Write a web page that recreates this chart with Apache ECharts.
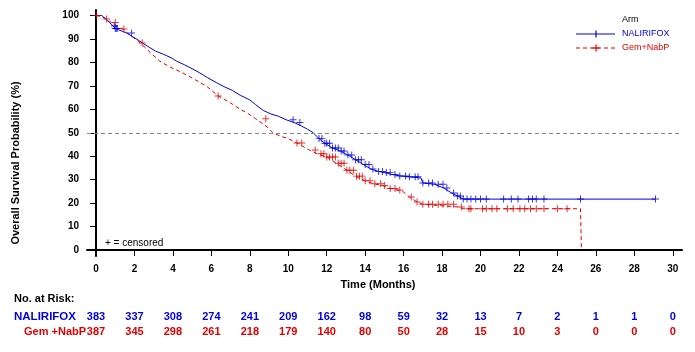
<!DOCTYPE html>
<html>
<head>
<meta charset="utf-8">
<script src="https://cdn.jsdelivr.net/npm/echarts@6/dist/echarts.min.js"></script>
<style>
html,body{margin:0;padding:0;background:#fff;}
#main{width:695px;height:352px;}
</style>
</head>
<body>
<div id="main"></div>
<script>
//KM曲线 [月, 生存率%]
let nalCurve = [[0,100],[0.3,100],[0.5,98.5],[0.7,97],[0.9,95.5],[1.0,94.5],[1.3,93.5],[1.6,92.5],[1.9,91],[2.2,89.5],
  [2.5,87.8],[2.8,86.3],[3.1,84.8],[3.5,83.5],[3.9,82],[4.2,80.5],[4.6,79],[5.0,77.3],[5.4,75.5],[5.8,73.5],
  [6.3,71.2],[6.7,69.5],[7.1,68],[7.5,66],[8.0,64],[8.3,62],[8.7,59.5],[9.1,58],[9.5,57],[9.9,55.5],
  [10.3,54.4],[10.7,52.8],[11.0,51.5],[11.3,50],[11.6,47.5],[11.9,45.5],[12.3,43.5],[12.7,42.2],[13.1,40.5],[13.5,38.5],
  [13.9,36.5],[14.3,34.5],[14.7,33.5],[15.0,33],[15.4,32.2],[15.8,31.6],[16.3,31.2],[16.9,30.7],[17.0,28.6],[17.6,28],
  [18.1,26.4],[18.5,24.3],[18.8,23],[19.1,21.7],[29.1,21.7]];
let gemCurve = [[0,100],[0.3,99.5],[0.55,98.5],[0.8,97],[1.1,95.5],[1.4,94.2],[1.8,91.5],[2.3,88.3],[2.8,84.4],[3.3,80.6],
  [3.85,78],[4.4,76],[4.9,73.8],[5.4,71.5],[5.8,69.5],[6.35,65.7],[7.0,62.7],[7.5,60],[7.85,58.5],[8.3,56],
  [8.9,52.5],[9.2,50],[9.6,48.5],[10.0,47.5],[10.45,45.6],[11.1,42.6],[11.5,41],[12.0,39.7],[12.5,37],[13.05,34],
  [13.5,31.5],[14.0,29.5],[14.4,28.3],[14.9,27.5],[15.3,26.2],[15.65,25.6],[16.0,24.7],[16.3,22.6],[16.7,20.5],[17.0,19.5],
  [18.9,18.3],[19.1,17.6],[25.2,17.6],[25.25,0]];
//删失时间
let nalCensor = [0.95,1.0,1.05,1.1,1.85,10.25,10.6,11.6,11.75,11.9,12.0,12.15,12.3,12.45,12.6,12.75,12.9,13.1,13.3,13.5,
  13.65,13.8,14.0,14.2,14.4,14.7,14.9,15.1,15.3,15.55,15.8,16.1,16.3,16.6,16.75,17.0,17.3,17.5,17.8,18.05,
  18.25,18.6,18.8,18.95,19.1,19.3,19.5,19.75,20.0,20.3,21.2,21.6,21.95,22.5,22.7,22.9,23.3,25.2,29.1];
let gemCensor = [0.03,0.55,1.0,1.45,2.4,6.35,8.83,10.45,10.7,11.4,11.7,11.85,12.0,12.15,12.3,12.45,12.6,12.75,12.9,13.05,
  13.2,13.4,13.55,13.7,13.85,14.0,14.25,14.5,14.8,15.0,15.3,15.55,15.8,16.4,16.7,17.0,17.3,17.5,17.8,18.05,
  18.3,18.6,19.0,19.4,19.5,20.1,20.3,20.6,20.85,21.4,21.7,22.05,22.3,22.6,22.9,23.3,24.0,24.5];
//风险人数
let riskTimes = [0,2,4,6,8,10,12,14,16,18,20,22,24,26,28,30];
let nalRisk = [383,337,308,274,241,209,162,98,59,32,13,7,2,1,1,0];
let gemRisk = [387,345,298,261,218,179,140,80,50,28,15,10,3,0,0,0];
let yTicks = [0,10,20,30,40,50,60,70,80,90,100];

let blue = '#0000dd';
let red = '#e00000';
let font = "'Liberation Sans', Arial, sans-serif";
let plus = 'path://M4.3,0H5.7V4.3H10V5.7H5.7V10H4.3V5.7H0V4.3H4.3Z';

//删失点的纵坐标取曲线上的值
function survAt(curve, t) {
  let s = curve[0][1];
  for (let i = 0; i < curve.length; i++) {
    if (curve[i][0] <= t) s = curve[i][1];
  }
  return s;
}
let nalMarks = nalCensor.map(t => [t, survAt(nalCurve, t)]);
let gemMarks = gemCensor.map(t => [t, survAt(gemCurve, t)]);

let dom = document.getElementById('main');
let myChart = echarts.init(dom);
let option = {
  animation: false,
  textStyle: { fontFamily: font },
  grid: { left: 87, right: 13, top: 10, bottom: 96 },
  xAxis: {
    type: 'value',
    min: -0.47,
    max: 30.48,
    splitLine: { show: false },
    axisLine: { lineStyle: { color: '#000', width: 2 } },
    axisTick: { customValues: riskTimes, length: 6, lineStyle: { color: '#000', width: 1 } },
    axisLabel: { customValues: riskTimes, color: '#000', fontWeight: 'bold', fontSize: 10, margin: 8 }
  },
  yAxis: {
    type: 'value',
    min: -2.56,
    max: 102.35,
    splitLine: { show: false },
    axisLine: { show: true, lineStyle: { color: '#000', width: 2 } },
    axisTick: { show: true, customValues: yTicks, length: 6, lineStyle: { color: '#000', width: 1 } },
    axisLabel: { customValues: yTicks, color: '#000', fontWeight: 'bold', fontSize: 10, margin: 8 }
  },
  series: [{
    name: 'NALIRIFOX',
    type: 'line',
    showSymbol: false,
    data: nalCurve,
    lineStyle: { color: blue, width: 1 },
    z: 3,
    markLine: {
      silent: true,
      symbol: 'none',
      label: { show: false },
      lineStyle: { color: '#888', type: [4, 3], width: 1 },
      data: [{ yAxis: 50 }]
    }
  }, {
    name: 'Gem+NabP',
    type: 'line',
    showSymbol: false,
    data: gemCurve,
    lineStyle: { color: red, width: 1, type: [4, 3] },
    z: 2
  }, {
    name: 'NALIRIFOX censored',
    type: 'scatter',
    symbol: plus,
    symbolSize: 7,
    data: nalMarks,
    itemStyle: { color: blue },
    z: 4
  }, {
    name: 'Gem+NabP censored',
    type: 'scatter',
    symbol: plus,
    symbolSize: 7,
    data: gemMarks,
    itemStyle: { color: red },
    z: 3
  }]
};
myChart.setOption(option);

//标题、图例和风险表
let g = [];
g.push({ type: 'text', x: 16, y: 163, rotation: Math.PI / 2,
  style: { text: 'Overall Survival Probability (%)', font: 'bold 11px ' + font, fill: '#000', align: 'center', verticalAlign: 'middle' } });
g.push({ type: 'text', x: 378, y: 285,
  style: { text: 'Time (Months)', font: 'bold 11px ' + font, fill: '#000', align: 'center', verticalAlign: 'middle' } });
g.push({ type: 'text', x: 105, y: 243,
  style: { text: '+ = censored', font: '10px ' + font, fill: '#000', verticalAlign: 'middle' } });
//图例
g.push({ type: 'text', x: 622, y: 20, style: { text: 'Arm', font: '9px ' + font, fill: '#000', verticalAlign: 'middle' } });
g.push({ type: 'line', shape: { x1: 576, y1: 34, x2: 615, y2: 34 }, style: { stroke: blue, lineWidth: 1 } });
g.push({ type: 'line', shape: { x1: 596, y1: 30.5, x2: 596, y2: 37.5 }, style: { stroke: blue, lineWidth: 1.2 } });
g.push({ type: 'text', x: 622, y: 34, style: { text: 'NALIRIFOX', font: '9px ' + font, fill: blue, verticalAlign: 'middle' } });
g.push({ type: 'line', shape: { x1: 576, y1: 48, x2: 615, y2: 48 }, style: { stroke: red, lineWidth: 1, lineDash: [4, 3] } });
g.push({ type: 'line', shape: { x1: 592.5, y1: 48, x2: 599.5, y2: 48 }, style: { stroke: red, lineWidth: 1.2 } });
g.push({ type: 'line', shape: { x1: 596, y1: 44.5, x2: 596, y2: 51.5 }, style: { stroke: red, lineWidth: 1.2 } });
g.push({ type: 'text', x: 622, y: 48, style: { text: 'Gem+NabP', font: '9px ' + font, fill: red, verticalAlign: 'middle' } });
//风险表
g.push({ type: 'text', x: 14, y: 299, style: { text: 'No. at Risk:', font: 'bold 11px ' + font, fill: '#000', verticalAlign: 'middle' } });
g.push({ type: 'text', x: 14, y: 317, style: { text: 'NALIRIFOX', font: 'bold 11.5px ' + font, fill: blue, verticalAlign: 'middle' } });
g.push({ type: 'text', x: 24, y: 332, style: { text: 'Gem +NabP', font: 'bold 11px ' + font, fill: red, verticalAlign: 'middle' } });
for (let i = 0; i < riskTimes.length; i++) {
  let px = myChart.convertToPixel({ xAxisIndex: 0 }, riskTimes[i]);
  g.push({ type: 'text', x: px, y: 317, style: { text: String(nalRisk[i]), font: 'bold 11px ' + font, fill: blue, align: 'center', verticalAlign: 'middle' } });
  g.push({ type: 'text', x: px, y: 332, style: { text: String(gemRisk[i]), font: 'bold 11px ' + font, fill: red, align: 'center', verticalAlign: 'middle' } });
}
myChart.setOption({ graphic: g });
</script>
</body>
</html>
